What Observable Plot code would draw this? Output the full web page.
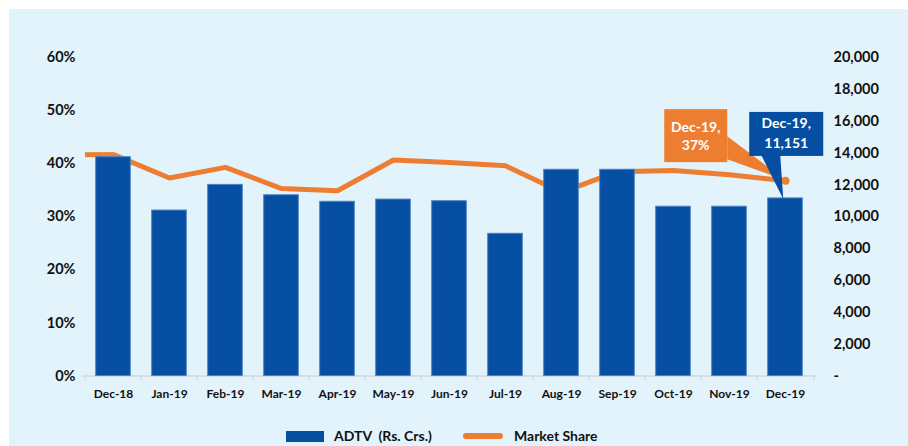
<!DOCTYPE html>
<html>
<head>
<meta charset="utf-8">
<script src="https://cdn.jsdelivr.net/npm/d3@7"></script>
<script src="https://cdn.jsdelivr.net/npm/@observablehq/plot@0.6"></script>
<style>
  html, body { margin: 0; padding: 0; background: #ffffff; }
  #wrap { position: relative; width: 908px; height: 446px; overflow: hidden; font-family: Lato, "Open Sans", sans-serif; }
  #panel { position: absolute; left: 9px; top: 9px; right: 0; bottom: 0; background: #E2F3FC; }
  #chart { position: absolute; left: 0; top: 0; }
  .lg { position: absolute; font-weight: 700; font-size: 14px; color: #111; line-height: 16px; }
</style>
</head>
<body>
<div id="wrap">
  <div id="panel"></div>
  <div id="chart"></div>
  <div class="lg" style="left:286px; top:431px; width:38px; height:11px; background:#054EA2;"></div>
  <div class="lg" style="left:334px; top:428px; white-space:pre;">ADTV  (Rs. Crs.)</div>
  <div class="lg" style="left:463px; top:433px; width:40px; height:6px; border-radius:3px; background:#ED7D31;"></div>
  <div class="lg" style="left:514px; top:428px;">Market Share</div>
</div>
<script>
// ---- data ----
const months = ["Dec-18", "Jan-19", "Feb-19", "Mar-19", "Apr-19", "May-19", "Jun-19",
                "Jul-19", "Aug-19", "Sep-19", "Oct-19", "Nov-19", "Dec-19"];
const adtv = [13740, 10390, 12000, 11350, 10940, 11080, 10975, 8930, 12950, 12950, 10630, 10630, 11151];
const marketShare = [0.417, 0.373, 0.393, 0.353, 0.349, 0.407, 0.402, 0.396, 0.346, 0.385, 0.387, 0.379, 0.368];
const leftTicks = [0, 0.1, 0.2, 0.3, 0.4, 0.5, 0.6];
const rightTicks = [0, 2000, 4000, 6000, 8000, 10000, 12000, 14000, 16000, 18000, 20000];
const SHARE_MAX = 0.6, ADTV_MAX = 20000;
const k = SHARE_MAX / ADTV_MAX; // maps ADTV onto the shared y scale

const rows = months.map((m, i) => ({month: m, adtv: adtv[i], share: marketShare[i]}));

const W = 908, H = 415, ML = 82, MR = 92, MT = 57, MB = 39.5;
const step = (W - ML - MR) / months.length;
const BLUE = "#054EA2", ORANGE = "#ED7D31";

function callouts(index, scales) {
  const sx = scales.x, sy = scales.y;
  const last = rows[rows.length - 1];
  const cx = sx(last.month) + step / 2;
  const yL = sy(last.share);
  const yB = sy(last.adtv * k);
  const g = d3.create("svg:g").attr("font-family", "Lato, sans-serif").attr("font-weight", 700).attr("font-size", 14);
  // orange callout
  g.append("polygon").attr("fill", ORANGE)
    .attr("points", [[cx - 58, yL - 44], [cx - 58, yL - 21], [cx, yL]].map(p => p.join(",")).join(" "));
  g.append("rect").attr("fill", ORANGE).attr("x", cx - 121).attr("y", yL - 71).attr("width", 63).attr("height", 53);
  g.append("text").attr("fill", "#fff").attr("text-anchor", "middle").attr("x", cx - 89.5).attr("y", yL - 53.5).attr("dy", "0.35em").text(last.month + ",");
  g.append("text").attr("fill", "#fff").attr("text-anchor", "middle").attr("x", cx - 89.5).attr("y", yL - 35).attr("dy", "0.35em").text(d3.format(".0%")(last.share));
  // blue callout
  g.append("polygon").attr("fill", BLUE)
    .attr("points", [[cx - 24, yB - 43], [cx - 5, yB - 43], [cx - 2, yB + 1]].map(p => p.join(",")).join(" "));
  g.append("rect").attr("fill", BLUE).attr("x", cx - 36).attr("y", yB - 86).attr("width", 74).attr("height", 44);
  g.append("text").attr("fill", "#fff").attr("text-anchor", "middle").attr("x", cx + 1).attr("y", yB - 75).attr("dy", "0.35em").text(last.month + ",");
  g.append("text").attr("fill", "#fff").attr("text-anchor", "middle").attr("x", cx + 1).attr("y", yB - 54.5).attr("dy", "0.35em").text(d3.format(",")(last.adtv));
  return g.node();
}

const chart = Plot.plot({
  width: W, height: H,
  marginLeft: ML, marginRight: MR, marginTop: MT, marginBottom: MB,
  style: {background: "transparent", fontFamily: "Lato, sans-serif", overflow: "visible", color: "#111"},
  x: {domain: months, padding: 0, axis: null, label: null},
  y: {domain: [0, SHARE_MAX], axis: null, label: null},
  marks: [
    Plot.axisY(leftTicks, {anchor: "left", label: null, tickSize: 0, tickPadding: 7, tickFormat: d3.format(".0%"),
      fontSize: 14.5, fontWeight: 700, fill: "#111"}),
    Plot.axisY(rightTicks.map(v => v * k), {anchor: "right", label: null, tickSize: 0, tickPadding: 17,
      tickFormat: d => { const v = Math.round(d / k); return v === 0 ? "-" : d3.format(",")(v); },
      fontSize: 14.5, fontWeight: 700, fill: "#111"}),
    Plot.axisX(months, {label: null, tickSize: 0, tickPadding: 13, fontSize: 12, fontWeight: 700, fill: "#111"}),
    Plot.ruleY([0], {stroke: "#D6D9DC", strokeWidth: 1.5}),
    Plot.ruleX(months, {x: d => d, y1: 0, y2: 0, insetBottom: -5, dx: -step / 2, stroke: "#D6D9DC", strokeWidth: 1.2}),
    Plot.ruleX([months[months.length - 1]], {x: d => d, y1: 0, y2: 0, insetBottom: -5, dx: step / 2, stroke: "#D6D9DC", strokeWidth: 1.2}),
    Plot.ruleY([rows[0]], {x1: "month", x2: "month", y: "share", insetRight: step / 2, stroke: ORANGE, strokeWidth: 5}),
    Plot.lineY(rows, {x: "month", y: "share", stroke: ORANGE, strokeWidth: 5, strokeLinejoin: "round"}),
    Plot.barY(rows, {x: "month", y: d => d.adtv * k, fill: BLUE, stroke: "#4A83C6", strokeWidth: 1,
      insetLeft: 10.7, insetRight: 10.7}),
    Plot.dot([rows[rows.length - 1]], {x: "month", y: "share", r: 4, fill: ORANGE}),
    callouts
  ]
});
document.getElementById("chart").appendChild(chart);
</script>
</body>
</html>
